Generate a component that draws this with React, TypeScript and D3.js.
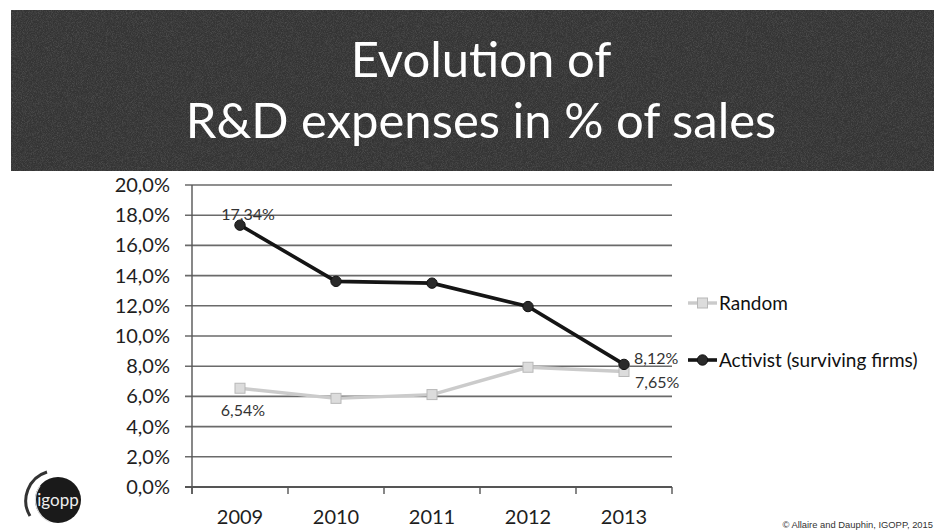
import React from "react";
import * as d3 from "d3";

const years = ["2009", "2010", "2011", "2012", "2013"];
const activist = [17.34, 13.62, 13.5, 11.95, 8.12];
const random = [6.54, 5.87, 6.12, 7.93, 7.65];
const yTicks = [0, 2, 4, 6, 8, 10, 12, 14, 16, 18, 20];
const titleLines = ["Evolution of", "R&D expenses in % of sales"];
const seriesNames = ["Random", "Activist (surviving firms)"];
const credit = "© Allaire and Dauphin, IGOPP, 2015";

const W = 934;
const H = 532;
const FONT = "Lato, 'Open Sans', sans-serif";

const fmtTick = (v: number) => v.toFixed(1).replace(".", ",") + "%";
const fmtVal = (v: number) => v.toFixed(2).replace(".", ",") + "%";

export default function App() {
  const x = d3.scaleBand<string>().domain(years).range([192, 672]).padding(0);
  const y = d3.scaleLinear().domain([0, 20]).range([487, 185]);
  const cx = (yr: string) => (x(yr) as number) + x.bandwidth() / 2;

  const line = d3
    .line<number>()
    .x((_, i) => cx(years[i]))
    .y((d) => y(d));

  const bounds = [...years.map((yr) => x(yr) as number), 672];

  const randColor = "#cbcbcb";
  const actColor = "#151515";

  return (
    <svg
      width={W}
      height={H}
      style={{ position: "absolute", left: 0, top: 0, background: "#fff" }}
    >
      <defs>
        <filter id="grain" x="0" y="0" width="100%" height="100%">
          <feTurbulence type="fractalNoise" baseFrequency="1.2" numOctaves="2" seed="3" result="n" />
          <feColorMatrix
            in="n"
            type="matrix"
            values="0 0 0 0 1  0 0 0 0 1  0 0 0 0 1  1.2 0 0 0 -0.45"
          />
        </filter>
      </defs>

      {/* Title banner */}
      <rect x={11} y={10} width={W - 11} height={161} fill="#343434" />
      <rect x={11} y={10} width={W - 11} height={161} filter="url(#grain)" opacity={0.22} />
      <text x={481} y={77} textAnchor="middle" fill="#fff" fontFamily={FONT} fontSize={49}>
        {titleLines[0]}
      </text>
      <text x={481} y={138} textAnchor="middle" fill="#fff" fontFamily={FONT} fontSize={49}>
        {titleLines[1]}
      </text>

      {/* Gridlines & y ticks */}
      {yTicks.map((t) => (
        <g key={t}>
          <line
            x1={185}
            x2={672}
            y1={y(t)}
            y2={y(t)}
            stroke={t === 0 ? "#555" : "#6a6a6a"}
            strokeWidth={t === 0 ? 2 : 1.6}
          />
          <text
            x={170}
            y={y(t)}
            dy="0.35em"
            textAnchor="end"
            fontFamily={FONT}
            fontSize={20}
            fill="#1e1e1e"
          >
            {fmtTick(t)}
          </text>
        </g>
      ))}

      {/* Axes */}
      <line x1={192} x2={192} y1={y(20)} y2={y(0) + 7} stroke="#555" strokeWidth={1.4} />
      {bounds.map((b, i) => (
        <line key={i} x1={b} x2={b} y1={y(0)} y2={y(0) + 7} stroke="#555" strokeWidth={1.4} />
      ))}
      {years.map((yr) => (
        <text
          key={yr}
          x={cx(yr)}
          y={517}
          dy="0.35em"
          textAnchor="middle"
          fontFamily={FONT}
          fontSize={20}
          fill="#1e1e1e"
        >
          {yr}
        </text>
      ))}

      {/* Random series */}
      <path d={line(random) as string} fill="none" stroke={randColor} strokeWidth={3.4} />
      {random.map((v, i) => (
        <rect
          key={i}
          x={cx(years[i]) - 5}
          y={y(v) - 5}
          width={10}
          height={10}
          fill="#dcdcdc"
          stroke="#b8b8b8"
          strokeWidth={1}
        />
      ))}

      {/* Activist series */}
      <path d={line(activist) as string} fill="none" stroke={actColor} strokeWidth={3.6} />
      {activist.map((v, i) => (
        <circle key={i} cx={cx(years[i])} cy={y(v)} r={5.2} fill="#2a2a2a" stroke="#111" strokeWidth={1} />
      ))}

      {/* Data labels */}
      <text x={cx(years[0]) + 8} y={y(activist[0]) - 11} dy="0.35em" textAnchor="middle" fontFamily={FONT} fontSize={16} fill="#333">
        {fmtVal(activist[0])}
      </text>
      <text x={cx(years[0]) + 3} y={y(random[0]) + 22} dy="0.35em" textAnchor="middle" fontFamily={FONT} fontSize={16} fill="#333">
        {fmtVal(random[0])}
      </text>
      <text x={cx(years[4]) + 10} y={y(activist[4]) - 6} dy="0.35em" textAnchor="start" fontFamily={FONT} fontSize={16} fill="#333">
        {fmtVal(activist[4])}
      </text>
      <text x={cx(years[4]) + 11} y={y(random[4]) + 11} dy="0.35em" textAnchor="start" fontFamily={FONT} fontSize={16} fill="#333">
        {fmtVal(random[4])}
      </text>

      {/* Legend */}
      <g>
        <line x1={688} x2={717} y1={303} y2={303} stroke={randColor} strokeWidth={3.4} />
        <rect x={697.5} y={298} width={10} height={10} fill="#dcdcdc" stroke="#b8b8b8" />
        <text x={719} y={303} dy="0.35em" fontFamily={FONT} fontSize={19} fill="#111">
          {seriesNames[0]}
        </text>
        <line x1={688} x2={717} y1={360} y2={360} stroke={actColor} strokeWidth={3.6} />
        <circle cx={702.5} cy={360} r={5.2} fill="#2a2a2a" stroke="#111" />
        <text x={719} y={360} dy="0.35em" fontFamily={FONT} fontSize={19} fill="#111">
          {seriesNames[1]}
        </text>
      </g>

      {/* Logo */}
      <g>
        <path d="M 30 516 A 30 30 0 0 1 47 472" fill="none" stroke="#333" strokeWidth={3} />
        <circle cx={58} cy={500} r={23} fill="#1a1a1a" />
        <path d="M 40 486 A 24 24 0 0 0 50 522" fill="none" stroke="#ddd" strokeWidth={1.2} />
        <text x={58} y={503} dy="0.2em" textAnchor="middle" fontFamily={FONT} fontSize={17} fill="#eee">
          igopp
        </text>
      </g>

      {/* Credit */}
      <text x={933} y={525} dy="0.35em" textAnchor="end" fontFamily="'Liberation Sans', Arial, sans-serif" fontSize={9.4} fill="#333">
        {credit}
      </text>
    </svg>
  );
}
